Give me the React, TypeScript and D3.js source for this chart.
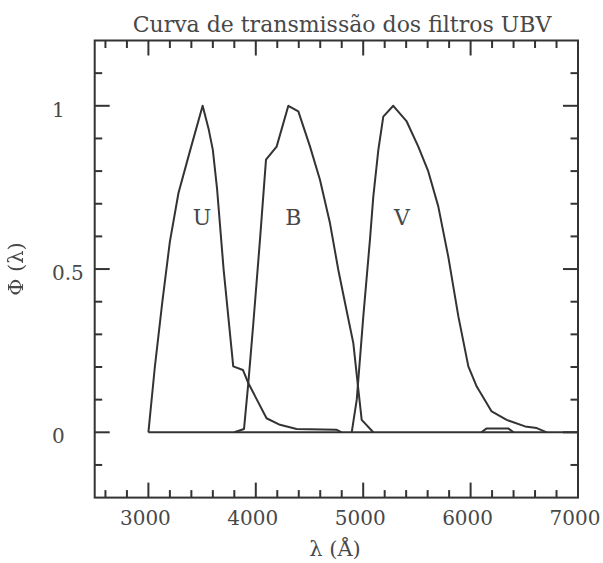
import React from "react";
import * as d3 from "d3";

const W = 603;
const H = 563;

const titleText = "Curva de transmissão dos filtros UBV";
const xLabelText = "λ (Å)";
const yLabelText = "Φ (λ)";

const xDomain: [number, number] = [2500, 7000];
const yDomain: [number, number] = [-0.2, 1.2];

const xMajorTicks = [3000, 4000, 5000, 6000, 7000];
const xMinorTicks = [2600, 2800, 3200, 3400, 3600, 3800, 4200, 4400, 4600, 4800, 5200, 5400, 5600, 5800, 6200, 6400, 6600, 6800];
const yMajorTicks = [0, 0.5, 1];
const yMajorLabels = ["0", "0.5", "1"];
const yMinorTicks = [-0.1, 0.1, 0.2, 0.3, 0.4, 0.6, 0.7, 0.8, 0.9, 1.1];

const uLambda = [3000, 3060, 3130, 3200, 3280, 3390, 3505, 3560, 3600, 3640, 3700, 3790, 3880, 3930, 4010, 4100, 4225, 4380, 4750, 4800];
const uPhi = [0, 0.2, 0.4, 0.584, 0.733, 0.865, 1.0, 0.93, 0.865, 0.743, 0.5, 0.202, 0.191, 0.151, 0.1, 0.043, 0.023, 0.01, 0.008, 0];

const bLambda = [3800, 3890, 3930, 3977, 4039, 4095, 4194, 4303, 4396, 4505, 4598, 4691, 4768, 4831, 4908, 4955, 4986, 5094];
const bPhi = [0, 0.01, 0.15, 0.334, 0.59, 0.835, 0.875, 1.0, 0.983, 0.875, 0.773, 0.64, 0.498, 0.396, 0.273, 0.13, 0.038, 0];

const vLambda = [4893, 4940, 5001, 5063, 5094, 5141, 5187, 5280, 5405, 5513, 5606, 5699, 5792, 5886, 5979, 6057, 6196, 6336, 6507, 6616, 6709];
const vPhi = [0, 0.1, 0.355, 0.59, 0.722, 0.865, 0.967, 1.0, 0.952, 0.875, 0.799, 0.692, 0.538, 0.355, 0.202, 0.14, 0.064, 0.038, 0.018, 0.013, 0];

const bumpLambda = [6100, 6150, 6350, 6400];
const bumpPhi = [0, 0.012, 0.012, 0];

const baseLambda = [3000, 7000];
const basePhi = [0, 0];

const curveNames = ["U", "B", "V"];
const curveLabelLambda = [3500, 4350, 5360];
const curveLabelPhi = [0.635, 0.635, 0.635];

const INK = "#333";
const TEXT_INK = "#484848";
const FONT = "'DejaVu Serif', serif";

export default function App() {
  const left = 94.7, right = 578, top = 40.5, bottom = 497.6;
  const x = d3.scaleLinear().domain(xDomain).range([left, right]);
  const y = d3.scaleLinear().domain(yDomain).range([bottom, top]);
  const line = d3
    .line<[number, number]>()
    .x((d) => x(d[0]))
    .y((d) => y(d[1]));
  const zip = (a: number[], b: number[]) => a.map((v, i) => [v, b[i]] as [number, number]);
  const series = [
    zip(baseLambda, basePhi),
    zip(uLambda, uPhi),
    zip(bLambda, bPhi),
    zip(vLambda, vPhi),
    zip(bumpLambda, bumpPhi),
  ];
  const majorLen = 15;
  const minorLen = 7.5;

  return (
    <svg
      width={W}
      height={H}
      style={{ position: "absolute", left: 0, top: 0, display: "block", background: "#fff" }}
    >
      <defs>
        <filter id="gray" x="-10%" y="-10%" width="120%" height="120%">
          <feColorMatrix type="saturate" values="0" />
        </filter>
      </defs>
      <rect x={0} y={0} width={W} height={H} fill="#fff" />
      <text x={342} y={32} textAnchor="middle" fontFamily={FONT} fontSize={22} fill={TEXT_INK}>
        {titleText}
      </text>

      {/* ticks */}
      <g stroke={INK} strokeWidth={2}>
        {xMajorTicks.map((t) => (
          <g key={"xM" + t}>
            <line x1={x(t)} x2={x(t)} y1={bottom} y2={bottom - majorLen} />
            <line x1={x(t)} x2={x(t)} y1={top} y2={top + majorLen} />
          </g>
        ))}
        {xMinorTicks.map((t) => (
          <g key={"xm" + t}>
            <line x1={x(t)} x2={x(t)} y1={bottom} y2={bottom - minorLen} />
            <line x1={x(t)} x2={x(t)} y1={top} y2={top + minorLen} />
          </g>
        ))}
        {yMajorTicks.map((t) => (
          <g key={"yM" + t}>
            <line x1={left} x2={left + majorLen} y1={y(t)} y2={y(t)} />
            <line x1={right} x2={right - majorLen} y1={y(t)} y2={y(t)} />
          </g>
        ))}
        {yMinorTicks.map((t) => (
          <g key={"ym" + t}>
            <line x1={left} x2={left + minorLen} y1={y(t)} y2={y(t)} />
            <line x1={right} x2={right - minorLen} y1={y(t)} y2={y(t)} />
          </g>
        ))}
      </g>

      {/* curves */}
      <g fill="none" stroke={INK} strokeWidth={2} strokeLinejoin="round">
        {series.map((s, i) => (
          <path key={i} d={line(s) || ""} />
        ))}
      </g>

      {/* frame */}
      <rect x={left} y={top} width={right - left} height={bottom - top} fill="none" stroke={INK} strokeWidth={2} />

      {/* curve labels */}
      {curveNames.map((n, i) => (
        <text
          key={n}
          x={x(curveLabelLambda[i])}
          y={y(curveLabelPhi[i])}
          textAnchor="middle"
          fontFamily={FONT}
          fontSize={22}
          fill={TEXT_INK}
        >
          {n}
        </text>
      ))}

      {/* tick labels */}
      {xMajorTicks.map((t) => (
        <text key={"xl" + t} x={x(t) - 3} y={525} textAnchor="middle" fontFamily={FONT} fontSize={20} fill={TEXT_INK}>
          {d3.format("d")(t)}
        </text>
      ))}
      {yMajorTicks.map((t, i) => (
        <text key={"yl" + t} x={52} y={y(t) + 11} textAnchor="start" fontFamily={FONT} fontSize={20} fill={TEXT_INK}>
          {yMajorLabels[i]}
        </text>
      ))}

      <text x={335} y={556} textAnchor="middle" fontFamily={FONT} fontSize={21} fill={TEXT_INK}>
        {xLabelText}
      </text>
      <g filter="url(#gray)">
        <text
          transform={`translate(23, ${(top + bottom) / 2}) rotate(-90)`}
          textAnchor="middle"
          fontFamily={FONT}
          fontSize={21}
          fill={TEXT_INK}
        >
          {yLabelText}
        </text>
      </g>
    </svg>
  );
}
